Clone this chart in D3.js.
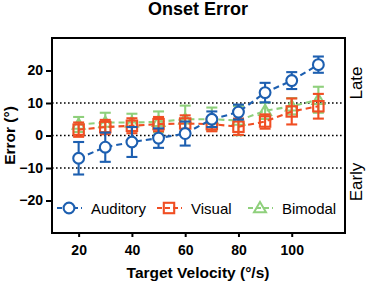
<!DOCTYPE html>
<html><head><meta charset="utf-8">
<script src="https://cdn.jsdelivr.net/npm/d3@7"></script>
<style>body{margin:0;background:#fff}svg{display:block;font-family:"Liberation Sans",Arial,sans-serif}</style>
</head><body>
<svg id="c" width="368" height="286"></svg>
<script>
const velocities = [20,30,40,50,60,70,80,90,100,110];
const auditory    = [-7,-3.6,-2,-0.8,0.6,5,7.2,13.2,16.9,21.8];
const auditoryErr = [5,4.5,4.6,3,3.7,2.4,2.3,3,2.6,2.5];
const visual      = [1.8,2.6,3,3.5,3.7,3.5,2.7,4.3,7.4,9];
const visualErr   = [2.2,2.2,2.3,2.2,2.5,2.2,2.5,2.2,4,3.8];
const bimodal     = [3.4,4,4,4.2,5,5,4.6,7.6,9,11];
const bimodalErr  = [2.3,3,2.7,3.2,4.2,3.6,4.5,2.5,2.5,4];
const xTicks = [20,40,60,80,100];
const yTicks = [-20,-10,0,10,20];
const refLines = [-10,0,10];
const seriesNames = ["Auditory","Visual","Bimodal"];
const seriesColors = ["#1d5fb0","#f04e23","#8fd07c"];
const seriesShapes = ["circle","square","triangle"];

const svg = d3.select("#c");
const L=52,R=345,T=38,B=233;
const x = d3.scaleLinear().domain([10,120]).range([L,R]);
const y = d3.scaleLinear().domain([-30,30]).range([B,T]);

svg.selectAll("line.ref").data(refLines).join("line")
  .attr("x1",L).attr("x2",R).attr("y1",d=>y(d)).attr("y2",d=>y(d))
  .attr("stroke","#000").attr("stroke-width",1.6).attr("stroke-dasharray","1.6,2.4");

const series = [
  {name:"Bimodal", vals:bimodal, err:bimodalErr, color:seriesColors[2], shape:"triangle"},
  {name:"Visual", vals:visual, err:visualErr, color:seriesColors[1], shape:"square"},
  {name:"Auditory", vals:auditory, err:auditoryErr, color:seriesColors[0], shape:"circle"}
];

function drawMarker(g, shape, color, cx, cy){
  if(shape==="circle"){
    g.append("circle").attr("cx",cx).attr("cy",cy).attr("r",5.4)
      .attr("fill","#fff").attr("stroke",color).attr("stroke-width",2.1);
  } else if(shape==="square"){
    g.append("rect").attr("x",cx-5.2).attr("y",cy-5.2).attr("width",10.4).attr("height",10.4)
      .attr("fill","none").attr("stroke",color).attr("stroke-width",2.1);
  } else {
    const s=6;
    g.append("path").attr("d",`M${cx},${cy-s}L${cx+s},${cy+s*0.7}L${cx-s},${cy+s*0.7}Z`)
      .attr("fill","none").attr("stroke",color).attr("stroke-width",2);
  }
}

series.forEach(s=>{
  const g = svg.append("g");
  const pts = velocities.map((v,i)=>({v, m:s.vals[i], e:s.err[i]}));
  pts.forEach(p=>{
    g.append("line").attr("x1",x(p.v)).attr("x2",x(p.v)).attr("y1",y(p.m+p.e)).attr("y2",y(p.m-p.e))
      .attr("stroke",s.color).attr("stroke-width",2.1);
    [p.m+p.e,p.m-p.e].forEach(c=>{
      g.append("line").attr("x1",x(p.v)-5.5).attr("x2",x(p.v)+5.5).attr("y1",y(c)).attr("y2",y(c))
        .attr("stroke",s.color).attr("stroke-width",2.1);
    });
  });
  g.append("path").datum(pts)
    .attr("d",d3.line().x(p=>x(p.v)).y(p=>y(p.m)))
    .attr("fill","none").attr("stroke",s.color).attr("stroke-width",2.1).attr("stroke-dasharray","6,4");
  pts.forEach(p=>drawMarker(g,s.shape,s.color,x(p.v),y(p.m)));
});

svg.append("rect").attr("x",L).attr("y",T).attr("width",R-L).attr("height",B-T)
  .attr("fill","none").attr("stroke","#000").attr("stroke-width",2);

const ya = svg.append("g").attr("transform",`translate(${L},0)`)
  .call(d3.axisLeft(y).tickValues(yTicks).tickSize(6).tickPadding(3));
const xa = svg.append("g").attr("transform",`translate(0,${B})`)
  .call(d3.axisBottom(x).tickValues(xTicks).tickSize(4).tickPadding(8));
[ya,xa].forEach(a=>{
  a.select(".domain").remove();
  a.selectAll(".tick line").attr("stroke","#000").attr("stroke-width",2);
  a.selectAll("text").attr("font-size",14).attr("font-weight","bold").attr("fill","#000")
    .attr("font-family","'Liberation Sans',Arial,sans-serif");
});

svg.append("text").attr("x",198).attr("y",15).attr("text-anchor","middle")
  .attr("font-size",18).attr("font-weight","bold").text("Onset Error");
svg.append("text").attr("x",198).attr("y",278).attr("text-anchor","middle")
  .attr("font-size",15.5).attr("font-weight","bold").text("Target Velocity (°/s)");
svg.append("text").attr("transform","translate(15,135.5) rotate(-90)").attr("text-anchor","middle")
  .attr("font-size",15.5).attr("font-weight","bold").text("Error (°)");
svg.append("text").attr("transform","translate(362,83) rotate(-90)").attr("text-anchor","middle")
  .attr("font-size",17).text("Late");
svg.append("text").attr("transform","translate(362,182) rotate(-90)").attr("text-anchor","middle")
  .attr("font-size",17).text("Early");

const legX = [57,157,248];
const legY = 208;
seriesNames.forEach((n,i)=>{
  const g = svg.append("g");
  g.append("line").attr("x1",legX[i]).attr("x2",legX[i]+25).attr("y1",legY).attr("y2",legY)
    .attr("stroke",seriesColors[i]).attr("stroke-width",2).attr("stroke-dasharray","5,3");
  drawMarker(g,seriesShapes[i],seriesColors[i],legX[i]+12,legY);
  g.append("text").attr("x",legX[i]+34).attr("y",legY+5.5).attr("font-size",15).attr("fill","#000").text(n);
});
</script>
</body></html>
